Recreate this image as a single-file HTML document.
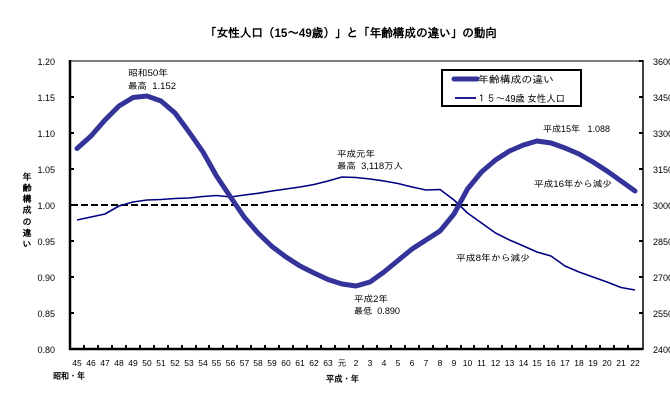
<!DOCTYPE html>
<html><head><meta charset="utf-8"><style>
html,body{margin:0;padding:0;background:#fff;}
svg{display:block;}
text{font-family:"Liberation Sans","IPAGothic","Noto Sans CJK JP",sans-serif;fill:#000;}
</style></head><body>
<svg width="670" height="405" viewBox="0 0 670 405" xmlns="http://www.w3.org/2000/svg">
<rect x="0" y="0" width="670" height="405" fill="#fff"/>
<!-- title -->
<text x="205" y="37" font-size="12" font-weight="bold" textLength="292" lengthAdjust="spacingAndGlyphs">「女性人口（15～49歳）」と「年齢構成の違い」の動向</text>

<!-- top gray border -->
<line x1="70" y1="61" x2="643" y2="61" stroke="#808080" stroke-width="2"/>
<!-- dashed 1.00 line -->
<line x1="71" y1="205" x2="643" y2="205" stroke="#000" stroke-width="2" stroke-dasharray="7,3"/>

<!-- axes -->
<line x1="70" y1="60" x2="70" y2="350" stroke="#000" stroke-width="2.5"/>
<line x1="69" y1="349" x2="643" y2="349" stroke="#000" stroke-width="2.5"/>
<line x1="643" y1="60" x2="643" y2="350" stroke="#000" stroke-width="1.5"/>

<!-- left ticks -->
<g stroke="#000" stroke-width="2">
<line x1="70" y1="97" x2="74" y2="97"/>
<line x1="70" y1="133" x2="74" y2="133"/>
<line x1="70" y1="169" x2="74" y2="169"/>
<line x1="70" y1="205" x2="74" y2="205"/>
<line x1="70" y1="241" x2="74" y2="241"/>
<line x1="70" y1="277" x2="74" y2="277"/>
<line x1="70" y1="313" x2="74" y2="313"/>
</g>
<!-- right ticks -->
<g stroke="#000" stroke-width="2">
<line x1="639" y1="61" x2="643" y2="61"/>
<line x1="639" y1="97" x2="643" y2="97"/>
<line x1="639" y1="133" x2="643" y2="133"/>
<line x1="639" y1="169" x2="643" y2="169"/>
<line x1="639" y1="241" x2="643" y2="241"/>
<line x1="639" y1="277" x2="643" y2="277"/>
<line x1="639" y1="313" x2="643" y2="313"/>
</g>
<!-- bottom ticks -->
<g fill="#000">
<rect x="83" y="345" width="2" height="4"/><rect x="97" y="345" width="2" height="4"/><rect x="111" y="345" width="2" height="4"/><rect x="125" y="345" width="2" height="4"/><rect x="139" y="345" width="2" height="4"/><rect x="153" y="345" width="2" height="4"/><rect x="167" y="345" width="2" height="4"/><rect x="181" y="345" width="2" height="4"/><rect x="195" y="345" width="2" height="4"/><rect x="208" y="345" width="2" height="4"/><rect x="222" y="345" width="2" height="4"/><rect x="236" y="345" width="2" height="4"/><rect x="250" y="345" width="2" height="4"/><rect x="264" y="345" width="2" height="4"/><rect x="278" y="345" width="2" height="4"/><rect x="292" y="345" width="2" height="4"/><rect x="306" y="345" width="2" height="4"/><rect x="320" y="345" width="2" height="4"/><rect x="334" y="345" width="2" height="4"/><rect x="348" y="345" width="2" height="4"/><rect x="362" y="345" width="2" height="4"/><rect x="376" y="345" width="2" height="4"/><rect x="390" y="345" width="2" height="4"/><rect x="404" y="345" width="2" height="4"/><rect x="418" y="345" width="2" height="4"/><rect x="432" y="345" width="2" height="4"/><rect x="446" y="345" width="2" height="4"/><rect x="460" y="345" width="2" height="4"/><rect x="473" y="345" width="2" height="4"/><rect x="487" y="345" width="2" height="4"/><rect x="501" y="345" width="2" height="4"/><rect x="515" y="345" width="2" height="4"/><rect x="529" y="345" width="2" height="4"/><rect x="543" y="345" width="2" height="4"/><rect x="557" y="345" width="2" height="4"/><rect x="571" y="345" width="2" height="4"/><rect x="585" y="345" width="2" height="4"/><rect x="599" y="345" width="2" height="4"/><rect x="613" y="345" width="2" height="4"/><rect x="627" y="345" width="2" height="4"/>
</g>

<!-- left labels -->
<g font-size="9" text-anchor="end">
<text x="55" y="65">1.20</text>
<text x="55" y="101">1.15</text>
<text x="55" y="137">1.10</text>
<text x="55" y="173">1.05</text>
<text x="55" y="209">1.00</text>
<text x="55" y="245">0.95</text>
<text x="55" y="281">0.90</text>
<text x="55" y="317">0.85</text>
<text x="55" y="353">0.80</text>
</g>
<!-- right labels -->
<g font-size="9">
<text x="653" y="65">3600</text>
<text x="653" y="101">3450</text>
<text x="653" y="137">3300</text>
<text x="653" y="173">3150</text>
<text x="653" y="209">3000</text>
<text x="653" y="245">2850</text>
<text x="653" y="281">2700</text>
<text x="653" y="317">2550</text>
<text x="653" y="353">2400</text>
</g>

<!-- y-axis title vertical -->
<g font-size="9" font-weight="bold" text-anchor="middle">
<text x="27" y="180">年</text>
<text x="27" y="191">齢</text>
<text x="27" y="202">構</text>
<text x="27" y="213">成</text>
<text x="27" y="225">の</text>
<text x="27" y="236">違</text>
<text x="27" y="247">い</text>
</g>

<!-- x labels -->
<g font-size="8.5" text-anchor="middle">
<text x="77" y="366">45</text><text x="91" y="366">46</text><text x="105" y="366">47</text><text x="119" y="366">48</text><text x="133" y="366">49</text><text x="147" y="366">50</text><text x="161" y="366">51</text><text x="175" y="366">52</text><text x="189" y="366">53</text><text x="203" y="366">54</text><text x="216.5" y="366">55</text><text x="230.5" y="366">56</text><text x="244.5" y="366">57</text><text x="258" y="366">58</text><text x="272" y="366">59</text><text x="286" y="366">60</text><text x="300" y="366">61</text><text x="314" y="366">62</text><text x="328" y="366">63</text><text x="342" y="366">元</text><text x="356" y="366">2</text><text x="370" y="366">3</text><text x="384" y="366">4</text><text x="398" y="366">5</text><text x="412" y="366">6</text><text x="426" y="366">7</text><text x="440" y="366">8</text><text x="454" y="366">9</text><text x="467.5" y="366">10</text><text x="481.5" y="366">11</text><text x="495.5" y="366">12</text><text x="509.5" y="366">13</text><text x="523.5" y="366">14</text><text x="537" y="366">15</text><text x="551" y="366">16</text><text x="565" y="366">17</text><text x="579" y="366">18</text><text x="593" y="366">19</text><text x="607" y="366">20</text><text x="621" y="366">21</text><text x="635" y="366">22</text>
</g>
<text x="53" y="379" font-size="9" font-weight="bold" textLength="32" lengthAdjust="spacingAndGlyphs">昭和・年</text>
<text x="326" y="382" font-size="9" font-weight="bold" textLength="33" lengthAdjust="spacingAndGlyphs">平成・年</text>

<!-- series: population (thin) -->
<polyline fill="none" stroke="#000080" stroke-width="1.6" stroke-linejoin="round" points="77,220 91,217 105,214 119,206 133,202 147,200 161,199.5 175,198.5 189,198 203,196.5 216.5,195.5 230.5,197 244.5,195 258,193.3 272,191 286,189 300,187 314,184.5 328,181 342,177 356,177.5 370,179 384,181 398,183.5 412,187 426,190 440,189.5 454,200 467.5,213 481.5,223 495.5,233 509.5,240 523.5,246 537,252 551,256 565,266 579,272 593,277 607,282 621,287.5 635,290"/>
<!-- series: age structure (thick) -->
<polyline fill="none" stroke="#333399" stroke-width="5" stroke-linejoin="round" stroke-linecap="round" points="77,148.5 91,136 105,120 119,106 133,97.5 147,96 161,101 175,113 189,132 203,152 216.5,176 230.5,197 244.5,217.5 258,233 272,246.5 286,257 300,266 314,273 328,279.5 342,284 356,286 370,282 384,272 398,260.5 412,249 426,240 440,231 454,214 467.5,189 481.5,172 495.5,160 509.5,151 523.5,145 537,141 551,143 565,148 579,154 593,162 607,171 621,181 635,191"/>

<!-- annotations -->
<g font-size="9">
<text x="128" y="76" textLength="40" lengthAdjust="spacingAndGlyphs">昭和50年</text>
<text x="128" y="89" textLength="48" lengthAdjust="spacingAndGlyphs">最高&#160;&#160;1.152</text>
<text x="337" y="157" textLength="38" lengthAdjust="spacingAndGlyphs">平成元年</text>
<text x="337" y="169" textLength="66" lengthAdjust="spacingAndGlyphs">最高&#160;&#160;3,118万人</text>
<text x="543" y="132" textLength="67" lengthAdjust="spacingAndGlyphs">平成15年&#160;&#160;&#160;1.088</text>
<text x="534" y="187" textLength="78" lengthAdjust="spacingAndGlyphs">平成16年から減少</text>
<text x="456" y="261" textLength="74" lengthAdjust="spacingAndGlyphs">平成8年から減少</text>
<text x="354" y="302" textLength="34" lengthAdjust="spacingAndGlyphs">平成2年</text>
<text x="354" y="314" textLength="46" lengthAdjust="spacingAndGlyphs">最低&#160;&#160;0.890</text>
</g>

<!-- legend -->
<rect x="442" y="70" width="139" height="36" fill="#fff" stroke="#000" stroke-width="2"/>
<line x1="454" y1="79" x2="477" y2="79" stroke="#333399" stroke-width="5" stroke-linecap="round"/>
<line x1="455" y1="98" x2="476" y2="98" stroke="#000080" stroke-width="1.8"/>
<text x="478" y="83" font-size="10" textLength="76" lengthAdjust="spacingAndGlyphs">年齢構成の違い</text>
<text x="477" y="102" font-size="10" textLength="88" lengthAdjust="spacingAndGlyphs">１５～49歳&#160;女性人口</text>
</svg>
</body></html>
